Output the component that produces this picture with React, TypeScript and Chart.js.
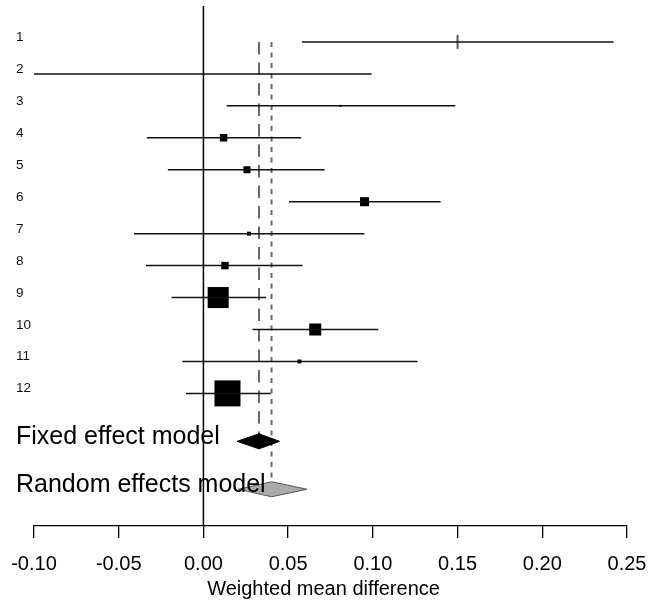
import React, { useEffect, useRef } from "react";
import { Chart, registerables } from "chart.js";

Chart.register(...registerables);

// ---- data ----
const studyLabels = ["1", "2", "3", "4", "5", "6", "7", "8", "9", "10", "11", "12"];
const estimates: (number | null)[] = [0.15, null, 0.081, 0.0119, 0.0257, 0.0951, 0.0269, 0.0127, 0.0087, 0.066, 0.0567, 0.0142];
const lowerCI = [0.0581, -0.1, 0.0137, -0.0334, -0.021, 0.0505, -0.041, -0.0339, -0.0188, 0.029, -0.0125, -0.0103];
const upperCI = [0.2421, 0.0993, 0.1487, 0.0577, 0.0715, 0.14, 0.095, 0.0585, 0.0369, 0.1032, 0.1264, 0.0398];
const weightsPct = [0, 0, 0.26, 3.6, 3.2, 5.3, 1.0, 3.6, 28.7, 9.4, 1.0, 43.9];

const fixedLabel = "Fixed effect model";
const fixedEst = 0.0328;
const fixedLo = 0.0198;
const fixedHi = 0.0449;

const randomLabel = "Random effects model";
const randomEst = 0.0402;
const randomLo = 0.0205;
const randomHi = 0.0611;

const xTicks = [-0.1, -0.05, 0, 0.05, 0.1, 0.15, 0.2, 0.25];
const xTitle = "Weighted mean difference";

// row positions (rows are 1..12, summary rows below)
const fixedRow = 13.5;
const randomRow = 15;
const yTop = -0.125;
const yBottom = 16.15;

const FONT = "'Liberation Sans', Arial, sans-serif";

export default function App() {
  const ref = useRef<HTMLCanvasElement | null>(null);

  useEffect(() => {
    if (!ref.current) return;
    const maxW = Math.max(...weightsPct);
    const sideFor = (w: number) => 26 * Math.sqrt(w / maxW);

    const ciSets = studyLabels.map((_, i) => ({
      type: "scatter" as const,
      data: [
        { x: lowerCI[i], y: i + 1 },
        { x: upperCI[i], y: i + 1 },
      ],
      showLine: true,
      borderColor: "#111",
      borderWidth: 1.5,
      pointRadius: 0,
    }));

    const boxPts: any[] = [];
    const boxRadius: number[] = [];
    const boxStyle: string[] = [];
    const boxRot: number[] = [];
    const boxBorder: string[] = [];
    const boxBW: number[] = [];
    estimates.forEach((e, i) => {
      if (e === null) return;
      boxPts.push({ x: e, y: i + 1 });
      if (weightsPct[i] === 0) {
        boxStyle.push("line");
        boxRadius.push(7);
        boxRot.push(90);
        boxBorder.push("#555");
        boxBW.push(2);
      } else {
        boxStyle.push("rect");
        boxRadius.push(Math.max(sideFor(weightsPct[i]), 1.6) / Math.SQRT2);
        boxRot.push(0);
        boxBorder.push("#000");
        boxBW.push(0);
      }
    });

    const zeroPad = (s: any) => {
      s.paddingLeft = 0;
      s.paddingRight = 0;
      s.paddingTop = 0;
      s.paddingBottom = 0;
    };

    const summaryPlugin = {
      id: "summary",
      afterDatasetsDraw(chart: any) {
        const { ctx, scales } = chart;
        const xs = scales.x;
        const ys = scales.y;
        const diamond = (lo: number, est: number, hi: number, row: number, fill: string, stroke: string) => {
          const y = ys.getPixelForValue(row);
          const h = 7.5;
          ctx.save();
          ctx.beginPath();
          ctx.moveTo(xs.getPixelForValue(lo), y);
          ctx.lineTo(xs.getPixelForValue(est), y - h);
          ctx.lineTo(xs.getPixelForValue(hi), y);
          ctx.lineTo(xs.getPixelForValue(est), y + h);
          ctx.closePath();
          ctx.fillStyle = fill;
          ctx.fill();
          ctx.strokeStyle = stroke;
          ctx.lineWidth = 1;
          ctx.stroke();
          ctx.restore();
        };
        diamond(fixedLo, fixedEst, fixedHi, fixedRow, "#000", "#000");
        diamond(randomLo, randomEst, randomHi, randomRow, "#aaaaaa", "#555");
      },
      afterDraw(chart: any) {
        const { ctx, scales, chartArea } = chart;
        const ys = scales.y;
        ctx.save();
        ctx.fillStyle = "#111";
        ctx.textAlign = "left";
        ctx.textBaseline = "alphabetic";
        ctx.font = `13.5px ${FONT}`;
        studyLabels.forEach((lab, i) => {
          ctx.fillText(lab, 16, ys.getPixelForValue(i + 1) - 1);
        });
        ctx.fillStyle = "#000";
        ctx.font = `25px ${FONT}`;
        ctx.fillText(fixedLabel, 16, ys.getPixelForValue(fixedRow) + 3);
        ctx.fillText(randomLabel, 16, ys.getPixelForValue(randomRow) + 3);
        ctx.font = `20px ${FONT}`;
        ctx.textAlign = "center";
        ctx.fillText(xTitle, (chartArea.left + chartArea.right) / 2 - 7, 595);
        ctx.restore();
      },
    };

    const chart = new Chart(ref.current, {
      type: "scatter",
      data: {
        datasets: [
          {
            data: [
              { x: 0, y: yTop },
              { x: 0, y: yBottom },
            ],
            showLine: true,
            borderColor: "#000",
            borderWidth: 1.5,
            pointRadius: 0,
          },
          ...ciSets,
          {
            data: [
              { x: fixedEst, y: 1 },
              { x: fixedEst, y: fixedRow },
            ],
            showLine: true,
            borderColor: "#6a6a6a",
            borderWidth: 2,
            borderDash: [12.5, 8],
            pointRadius: 0,
          },
          {
            data: [
              { x: randomEst, y: 1 },
              { x: randomEst, y: randomRow },
            ],
            showLine: true,
            borderColor: "#6a6a6a",
            borderWidth: 2,
            borderDash: [5, 5.5],
            pointRadius: 0,
          },
          {
            data: boxPts,
            showLine: false,
            pointStyle: boxStyle as any,
            pointRadius: boxRadius,
            pointRotation: boxRot,
            pointBackgroundColor: "#000",
            pointBorderColor: boxBorder,
            pointBorderWidth: boxBW,
          },
        ] as any,
      },
      options: {
        responsive: false,
        maintainAspectRatio: false,
        animation: false,
        devicePixelRatio: 1,
        events: [],
        layout: { autoPadding: false, padding: { left: 34, right: 22, top: 6, bottom: 0 } },
        plugins: {
          legend: { display: false },
          tooltip: { enabled: false },
          title: { display: false },
        },
        scales: {
          x: {
            type: "linear",
            position: "bottom",
            min: xTicks[0],
            max: xTicks[xTicks.length - 1],
            afterBuildTicks: (s: any) => {
              s.ticks = xTicks.map((v) => ({ value: v }));
            },
            afterFit: (s: any) => {
              s.height = 77;
              zeroPad(s);
            },
            ticks: {
              callback: (v: any) => Number(v).toFixed(2),
              font: { family: FONT, size: 20 },
              color: "#000",
              padding: 14,
              autoSkip: false,
              maxRotation: 0,
            },
            grid: {
              display: true,
              drawOnChartArea: false,
              drawTicks: true,
              tickLength: 12,
              color: "#000",
              lineWidth: 1.3,
            },
            border: { display: true, color: "#000", width: 1.3 },
          },
          y: {
            type: "linear",
            reverse: true,
            min: yTop,
            max: yBottom,
            display: false,
            afterFit: (s: any) => {
              s.width = 0;
              zeroPad(s);
            },
          },
        },
      } as any,
      plugins: [summaryPlugin],
    });
    return () => chart.destroy();
  }, []);

  return (
    <div style={{ position: "absolute", left: 0, top: 0, width: 649, height: 603, background: "#fff" }}>
      <canvas ref={ref} width={649} height={603} style={{ width: 649, height: 603 }} />
    </div>
  );
}
